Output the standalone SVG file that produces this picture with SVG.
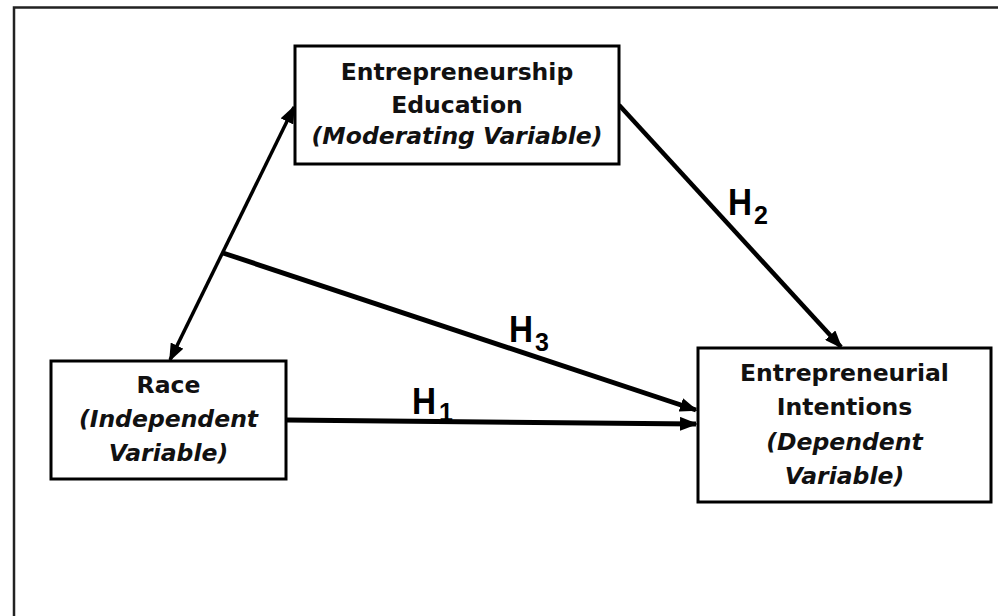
<svg xmlns="http://www.w3.org/2000/svg" width="998" height="616" viewBox="0 0 998 616">
<style>
.box{fill:#fff;stroke:#000;stroke-width:3}
.t{font-family:"DejaVu Sans",sans-serif;font-weight:bold;font-size:23.5px;fill:#111;text-anchor:middle}
.i{font-style:italic}
.c{fill:none;stroke:#000;stroke-width:4.5}
.h{font-family:"Liberation Sans",Arial,sans-serif;font-weight:bold;fill:#000}
</style>
<defs>
<marker id="ah" viewBox="0 0 18 14" markerWidth="18" markerHeight="14" refX="16" refY="7" orient="auto-start-reverse" markerUnits="userSpaceOnUse">
<path d="M0,0 L18,7 L0,14 z" fill="#000"/>
</marker>
</defs>
<rect width="998" height="616" fill="#fff"/>
<path d="M14,630 L14,7.5 L1010,7.5" fill="none" stroke="#222" stroke-width="2.5"/>
<g id="connectors">
<line class="c" style="stroke-width:3.5" x1="170" y1="360" x2="294" y2="107" marker-start="url(#ah)" marker-end="url(#ah)"/>
<line class="c" style="stroke-width:5" x1="223" y1="253" x2="696" y2="410" marker-end="url(#ah)"/>
<line class="c" style="stroke-width:5" x1="287" y1="420" x2="696" y2="424" marker-end="url(#ah)"/>
<line class="c" x1="619" y1="105" x2="841" y2="347" marker-end="url(#ah)"/>
</g>
<g id="labels">
<text class="h" font-size="37" transform="translate(728,215) scale(0.9,1)">H</text>
<text class="h" font-size="25" x="754" y="224">2</text>
<text class="h" font-size="37" transform="translate(509,342) scale(0.9,1)">H</text>
<text class="h" font-size="25" x="535" y="351">3</text>
<text class="h" font-size="37" transform="translate(412,414) scale(0.9,1)">H</text>
<text class="h" font-size="25" x="439" y="421">1</text>
</g>
<g id="node-education">
<rect class="box" x="295" y="46" width="324" height="118"/>
<text class="t" x="457" y="80">Entrepreneurship</text>
<text class="t" x="457" y="113">Education</text>
<text class="t i" x="457" y="144">(Moderating Variable)</text>
</g>
<g id="node-race">
<rect class="box" x="51" y="361" width="235" height="118"/>
<text class="t" x="168.5" y="393">Race</text>
<text class="t i" x="168.5" y="427">(Independent</text>
<text class="t i" x="168.5" y="461">Variable)</text>
</g>
<g id="node-intentions">
<rect class="box" x="698" y="348" width="293" height="154"/>
<text class="t" x="844.5" y="381">Entrepreneurial</text>
<text class="t" x="844.5" y="415">Intentions</text>
<text class="t i" x="844.5" y="450">(Dependent</text>
<text class="t i" x="844.5" y="484">Variable)</text>
</g>
</svg>
